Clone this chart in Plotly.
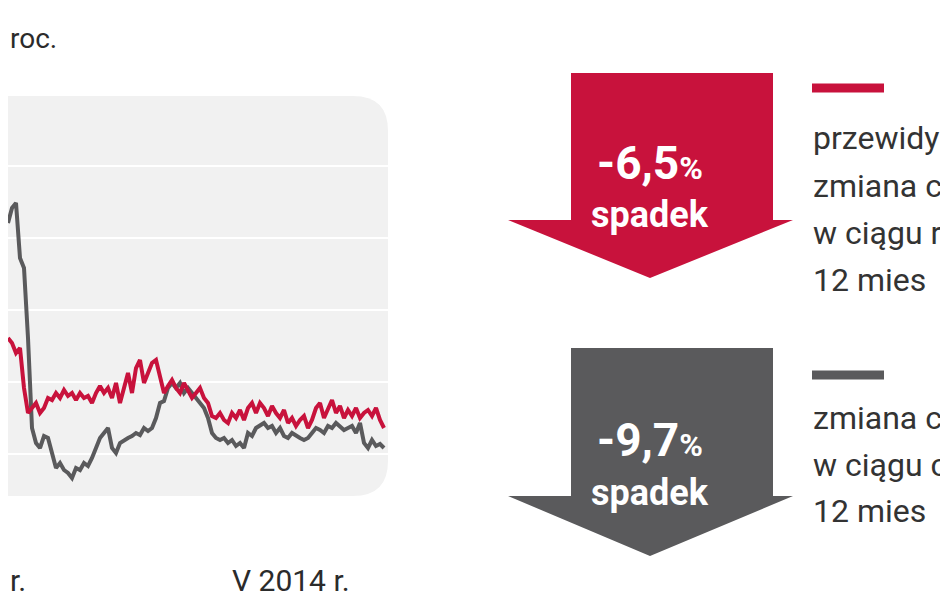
import plotly.graph_objects as go

W, H = 948, 593
x_pos = list(range(0, 380, 4))
gray_vals = [488 - p for p in [215,200,195,250,260,330,420,435,440,428,430,445,460,455,462,465,470,460,462,455,458,450,440,430,425,420,440,445,435,432,430,428,425,427,420,423,420,410,395,393,380,375,380,375,385,380,385,390,395,400,410,425,430,432,430,435,432,438,435,440,425,428,420,418,415,420,418,425,420,428,430,425,428,430,432,430,425,420,422,425,418,420,415,418,422,420,418,425,415,435,440,432,438,436,440]]
red_vals = [488 - p for p in [330,335,345,340,380,405,400,395,405,400,390,392,385,390,382,388,385,392,385,390,388,395,385,378,385,380,390,375,395,378,365,385,360,352,375,365,355,352,370,385,378,372,380,385,375,382,390,385,380,390,395,408,410,405,412,415,405,410,402,412,400,395,405,395,400,408,398,405,410,402,415,410,418,412,408,420,412,400,395,410,400,392,405,398,410,402,408,400,410,405,402,408,400,412,420]]
RED, GRAY = "#c8123c", "#5a5a5c"

def px(x): return x / W
def py(y): return 1 - y / H

fig = go.Figure()
fig.add_trace(go.Scatter(x=x_pos[:len(gray_vals)], y=gray_vals, mode="lines",
                         line=dict(color=GRAY, width=4)))
fig.add_trace(go.Scatter(x=x_pos[:len(red_vals)], y=red_vals, mode="lines",
                         line=dict(color=RED, width=4)))

shapes = []
shapes.append(dict(type="path", xref="paper", yref="paper", layer="below",
    path=f"M {px(-20)},{py(88)} L {px(345)},{py(88)} Q {px(380)},{py(88)} {px(380)},{py(123)} "
         f"L {px(380)},{py(453)} Q {px(380)},{py(488)} {px(345)},{py(488)} L {px(-20)},{py(488)} Z",
    fillcolor="#f1f1f1", line=dict(width=0)))
def arrow(top, bot, tip, color):
    return dict(type="path", xref="paper", yref="paper",
        path=(f"M {px(563)},{py(top)} L {px(765)},{py(top)} L {px(765)},{py(bot)} L {px(785)},{py(bot)} "
              f"L {px(642)},{py(tip)} L {px(500)},{py(bot)} L {px(563)},{py(bot)} Z"),
        fillcolor=color, line=dict(width=0))
shapes.append(arrow(65, 212, 270, RED))
shapes.append(arrow(340, 488, 548, GRAY))
for y, c in [(80, RED), (367, GRAY)]:
    shapes.append(dict(type="line", xref="paper", yref="paper", x0=px(804), x1=px(876),
                       y0=py(y), y1=py(y), line=dict(color=c, width=9)))

ann = []
def t(x, y, s, size, color="#2b2b2b", xa="left", bold=False):
    ann.append(dict(x=px(x), y=py(y), xref="paper", yref="paper", text=f"<b>{s}</b>" if bold else s,
                    showarrow=False, xanchor=xa, yanchor="middle",
                    font=dict(size=size, color=color, family="Roboto")))
t(0, 30, "roc.", 28)
t(0, 572, "r.", 30)
t(222, 572, "V 2014 r.", 30)
t(642, 155, "-6,5<span style='font-size:32px'>%</span>", 46, "white", "center", True)
t(642, 207, "spadek", 36, "white", "center", True)
t(642, 432, "-9,7<span style='font-size:32px'>%</span>", 46, "white", "center", True)
t(642, 485, "spadek", 36, "white", "center", True)
for y, s in [(130, "przewidy"), (178, "zmiana c"), (225, "w ciągu r"), (272, "12 mies")]:
    t(803, y, s, 32, "#333333")
for y, s in [(410, "zmiana c"), (457, "w ciągu c"), (503, "12 mies")]:
    t(803, y, s, 32, "#333333")

fig.update_layout(
    width=W, height=H, margin=dict(l=0, r=0, t=0, b=0),
    paper_bgcolor="white", plot_bgcolor="rgba(0,0,0,0)", showlegend=False,
    xaxis=dict(domain=[0, px(380)], range=[0, 380], visible=False),
    yaxis=dict(domain=[py(488), py(88)], range=[0, 400], tick0=42, dtick=72,
               showgrid=True, gridcolor="white", gridwidth=2, zeroline=False,
               showticklabels=False, ticks=""),
    shapes=shapes, annotations=ann)
fig.write_html("out.html")
